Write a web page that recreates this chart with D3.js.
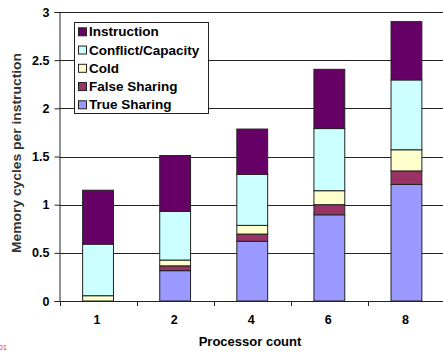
<!DOCTYPE html>
<html><head><meta charset="utf-8">
<script src="https://cdn.jsdelivr.net/npm/d3@7"></script>
<style>body{margin:0;background:#fff}svg{display:block;font-family:"Liberation Sans",Arial,sans-serif}</style>
</head><body><svg width="443" height="352"></svg>
<script>
const categories = ["1","2","4","6","8"];
const seriesNames = ["True Sharing","False Sharing","Cold","Conflict/Capacity","Instruction"];
const trueSharing    = [0,     0.315, 0.62,  0.895, 1.21];
const falseSharing   = [0,     0.05,  0.075, 0.105, 0.14];
const cold           = [0.055, 0.06,  0.09,  0.145, 0.22];
const conflictCap    = [0.535, 0.505, 0.53,  0.645, 0.725];
const instruction    = [0.56,  0.58,  0.47,  0.615, 0.605];
const yTicks = [0, 0.5, 1, 1.5, 2, 2.5, 3];
const colors = ["#9999FF","#993366","#FFFFCC","#CCFFFF","#660066"];

const svg = d3.select("svg");
const x0 = 59.5, x1 = 445, yTop = 12, yBot = 301;
const x = d3.scaleBand().domain(categories).range([x0, x1]).padding(0);
const y = d3.scaleLinear().domain([0, 3]).range([yBot, yTop]);

const rows = categories.map((c, i) => ({cat: c, "True Sharing": trueSharing[i], "False Sharing": falseSharing[i], "Cold": cold[i], "Conflict/Capacity": conflictCap[i], "Instruction": instruction[i]}));
const stacked = d3.stack().keys(seriesNames)(rows);

// gridlines
svg.append("g").selectAll("line").data(yTicks.filter(t => t > 0)).join("line")
  .attr("x1", x0).attr("x2", x1).attr("y1", d => Math.round(y(d)) + 0.5).attr("y2", d => Math.round(y(d)) + 0.5)
  .attr("stroke", "#222").attr("stroke-width", 1);

// bars
const bw = x.bandwidth() * 0.4;
svg.append("g").selectAll("g").data(stacked).join("g")
  .attr("fill", (d, i) => colors[i])
  .selectAll("rect").data(d => d.filter(s => s[1] - s[0] > 0)).join("rect")
  .attr("x", d => x(d.data.cat) + x.bandwidth() / 2 - bw / 2)
  .attr("width", bw)
  .attr("y", d => y(d[1]))
  .attr("height", d => y(d[0]) - y(d[1]))
  .attr("stroke", "#222").attr("stroke-width", 1);

// y axis
const ya = svg.append("g").attr("transform", `translate(${x0},0)`)
  .call(d3.axisLeft(y).tickValues(yTicks).tickSize(5).tickPadding(5).tickFormat(d => String(d)));
ya.select(".domain").attr("stroke", "#222");
ya.selectAll(".tick line").attr("stroke", "#222");
ya.selectAll("text").attr("font-size", 12.5).attr("font-weight", "bold").attr("fill", "#000")
  .attr("font-family", "Liberation Sans, Arial, sans-serif");

// x axis
const xa = svg.append("g").attr("transform", `translate(0,${yBot})`);
xa.append("line").attr("x1", x0).attr("x2", x1).attr("y1", 0.5).attr("y2", 0.5).attr("stroke", "#222");
const bounds = categories.map(c => x(c));
xa.selectAll("line.tk").data(bounds).join("line").attr("class", "tk")
  .attr("x1", d => Math.round(d) + 0.5).attr("x2", d => Math.round(d) + 0.5)
  .attr("y1", 0).attr("y2", 5).attr("stroke", "#222");
xa.selectAll("text").data(categories).join("text")
  .attr("x", d => x(d) + x.bandwidth() / 2 - 1).attr("y", 23)
  .attr("text-anchor", "middle").attr("font-size", 12.5).attr("font-weight", "bold").text(d => d);

// axis titles
svg.append("text").attr("x", 250).attr("y", 346).attr("text-anchor", "middle")
  .attr("font-size", 13).attr("font-weight", "bold").text("Processor count");
svg.append("text").attr("transform", "translate(21,153) rotate(-90)").attr("text-anchor", "middle")
  .attr("font-size", 12).attr("font-weight", "bold").attr("fill", "#333")
  .attr("textLength", 200).attr("lengthAdjust", "spacingAndGlyphs")
  .text("Memory cycles per instruction");

// legend
const lg = svg.append("g");
lg.append("rect").attr("x", 74.5).attr("y", 22.5).attr("width", 134).attr("height", 91)
  .attr("fill", "#fff").attr("stroke", "#222");
const legendOrder = seriesNames.map((n, i) => ({n, c: colors[i]})).reverse();
const li = lg.selectAll("g").data(legendOrder).join("g")
  .attr("transform", (d, i) => `translate(0,${31.3 + i * 18.25})`);
li.append("rect").attr("x", 78.5).attr("y", -3.5).attr("width", 8).attr("height", 8)
  .attr("fill", d => d.c).attr("stroke", "#222");
li.append("text").attr("x", 89).attr("y", 5).attr("font-size", 13.5).attr("font-weight", "bold").text(d => d.n);

// small red mark
svg.append("text").attr("x", -1).attr("y", 350).attr("font-size", 7).attr("fill", "#e03030").text("01");
</script></body></html>
